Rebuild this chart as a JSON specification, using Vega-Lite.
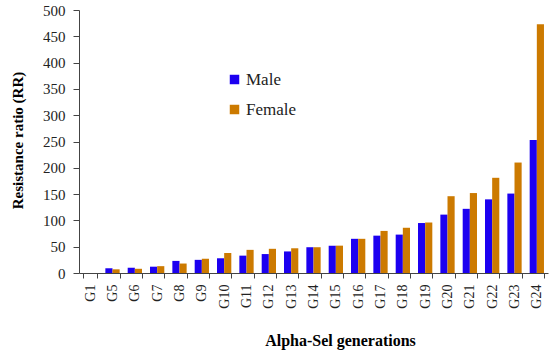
{
  "$schema": "https://vega.github.io/schema/vega-lite/v6.json",
  "width": 469,
  "height": 263,
  "autosize": {"type": "none"},
  "padding": {"left": 79, "top": 10, "right": 2, "bottom": 82},
  "background": "white",
  "config": {
    "view": {"stroke": null},
    "font": "Liberation Serif",
    "legend": {"labelFont": "Liberation Serif", "titleFont": "Liberation Serif"},
    "axis": {"labelFont": "Liberation Serif", "titleFont": "Liberation Serif"}
  },
  "data": {
    "values": [
      {"gen": "G1", "sex": "Male", "rr": 0}, {"gen": "G1", "sex": "Female", "rr": 0},
      {"gen": "G5", "sex": "Male", "rr": 9}, {"gen": "G5", "sex": "Female", "rr": 7},
      {"gen": "G6", "sex": "Male", "rr": 10}, {"gen": "G6", "sex": "Female", "rr": 8},
      {"gen": "G7", "sex": "Male", "rr": 12}, {"gen": "G7", "sex": "Female", "rr": 13},
      {"gen": "G8", "sex": "Male", "rr": 23}, {"gen": "G8", "sex": "Female", "rr": 18},
      {"gen": "G9", "sex": "Male", "rr": 25}, {"gen": "G9", "sex": "Female", "rr": 27},
      {"gen": "G10", "sex": "Male", "rr": 28}, {"gen": "G10", "sex": "Female", "rr": 38},
      {"gen": "G11", "sex": "Male", "rr": 33}, {"gen": "G11", "sex": "Female", "rr": 44},
      {"gen": "G12", "sex": "Male", "rr": 36}, {"gen": "G12", "sex": "Female", "rr": 46},
      {"gen": "G13", "sex": "Male", "rr": 41}, {"gen": "G13", "sex": "Female", "rr": 47},
      {"gen": "G14", "sex": "Male", "rr": 49}, {"gen": "G14", "sex": "Female", "rr": 49},
      {"gen": "G15", "sex": "Male", "rr": 52}, {"gen": "G15", "sex": "Female", "rr": 52},
      {"gen": "G16", "sex": "Male", "rr": 65}, {"gen": "G16", "sex": "Female", "rr": 65},
      {"gen": "G17", "sex": "Male", "rr": 71}, {"gen": "G17", "sex": "Female", "rr": 80},
      {"gen": "G18", "sex": "Male", "rr": 73}, {"gen": "G18", "sex": "Female", "rr": 86},
      {"gen": "G19", "sex": "Male", "rr": 95}, {"gen": "G19", "sex": "Female", "rr": 96},
      {"gen": "G20", "sex": "Male", "rr": 111}, {"gen": "G20", "sex": "Female", "rr": 146},
      {"gen": "G21", "sex": "Male", "rr": 122}, {"gen": "G21", "sex": "Female", "rr": 152},
      {"gen": "G22", "sex": "Male", "rr": 140}, {"gen": "G22", "sex": "Female", "rr": 181},
      {"gen": "G23", "sex": "Male", "rr": 151}, {"gen": "G23", "sex": "Female", "rr": 210},
      {"gen": "G24", "sex": "Male", "rr": 253}, {"gen": "G24", "sex": "Female", "rr": 473}
    ]
  },
  "mark": {"type": "bar"},
  "encoding": {
    "x": {
      "field": "gen", "type": "nominal", "sort": null,
      "scale": {"paddingInner": 0.36, "paddingOuter": 0.18},
      "axis": {
        "title": "Alpha-Sel generations", "titleFont": "Liberation Serif", "titleFontSize": 16,
        "titleFontWeight": "bold", "titleColor": "black",
        "titleX": 261, "titleY": 72, "titleAlign": "center", "titleBaseline": "alphabetic", "titleAnchor": null,
        "labelAngle": -90, "labelAlign": "right", "labelBaseline": "middle",
        "labelFont": "Liberation Serif", "labelFontSize": 14, "labelColor": "#222",
        "labelPadding": 6,
        "tickBand": "extent", "tickColor": "#444", "tickSize": 5,
        "domainColor": "#444", "grid": false
      }
    },
    "xOffset": {"field": "sex", "type": "nominal", "sort": ["Male", "Female"], "scale": {"paddingInner": 0}},
    "y": {
      "field": "rr", "type": "quantitative",
      "scale": {"domain": [0, 500]},
      "axis": {
        "title": "Resistance ratio (RR)", "titleFont": "Liberation Serif", "titleFontSize": 15,
        "titleFontWeight": "bold", "titleColor": "black",
        "titleX": -62, "titleY": 130, "titleBaseline": "middle", "titleAlign": "center", "titleAnchor": null,
        "values": [0, 50, 100, 150, 200, 250, 300, 350, 400, 450, 500],
        "labelFont": "Liberation Serif", "labelFontSize": 15, "labelColor": "#222",
        "labelPadding": 8,
        "tickColor": "#444", "tickSize": 6, "domainColor": "#444", "grid": false
      }
    },
    "color": {
      "field": "sex", "type": "nominal",
      "scale": {"domain": ["Male", "Female"], "range": ["#1C00F0", "#CC7A00"]},
      "legend": {
        "title": null, "orient": "none", "legendX": 147, "legendY": 61,
        "symbolType": "square", "symbolSize": 90, "symbolStrokeWidth": 0,
        "symbolOpacity": 1,
        "labelFont": "Liberation Serif", "labelFontSize": 17, "labelColor": "#222",
        "rowPadding": 12, "labelOffset": 3
      }
    }
  }
}
